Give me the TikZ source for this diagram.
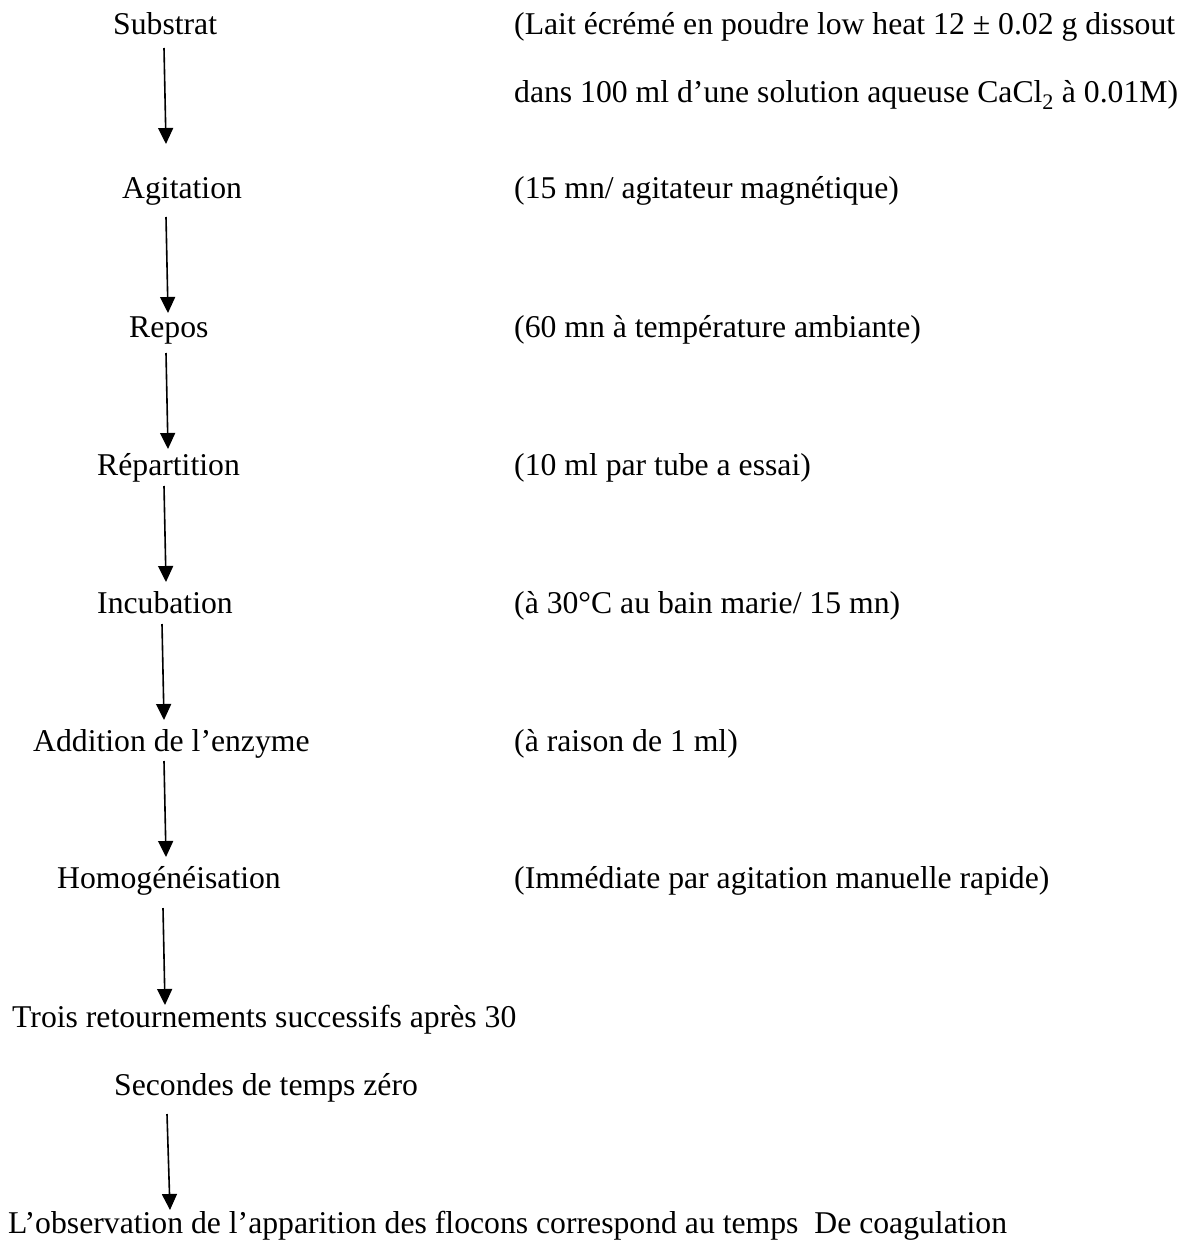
\documentclass[tikz,border=0pt]{standalone}
\usepackage{fontspec}
\setmainfont{Liberation Serif}
\usetikzlibrary{arrows.meta}
\begin{document}
\begin{tikzpicture}[x=1pt,y=-1pt,
  txt/.style={anchor=base west,inner sep=0pt,font=\fontsize{31.7}{38}\selectfont},
  arr/.style={line width=1.6pt,-{Triangle[width=15pt,length=16pt]}}]
\useasboundingbox (0,0) rectangle (1193,1241);
% left column
\node[txt] (sub) at (113,35) {Substrat};
\node[txt] (agi) at (122,199) {Agitation};
\node[txt] (rep) at (129,337) {Repos};
\node[txt] (rpt) at (97,475) {Répartition};
\node[txt] (inc) at (97,613) {Incubation};
\node[txt] (add) at (33,751) {Addition de l’enzyme};
\node[txt] (hom) at (57,888) {Homogénéisation};
\node[txt] (tro) at (12,1027) {Trois retournements successifs après 30};
\node[txt] (sec) at (114,1095) {Secondes de temps zéro};
\node[txt] (obs) at (8,1233) {L’observation de l’apparition des flocons correspond au temps\ \ De coagulation};
% right column
\node[txt] (c1a) at (514,35) {(Lait écrémé en poudre low heat 12 ± 0.02 g dissout};
\node[txt] (c1b) at (514,103) {dans 100 ml d’une solution aqueuse CaCl\textsubscript{2} à 0.01M)};
\node[txt] (c2) at (514,199) {(15 mn/ agitateur magnétique)};
\node[txt] (c3) at (514,337) {(60 mn à température ambiante)};
\node[txt] (c4) at (514,475) {(10 ml par tube a essai)};
\node[txt] (c5) at (514,613) {(à 30°C au bain marie/ 15 mn)};
\node[txt] (c6) at (514,751) {(à raison de 1 ml)};
\node[txt] (c7) at (514,888) {(Immédiate par agitation manuelle rapide)};
% arrows
\draw[arr] ([shift={(51,13)}]sub.base west) -- ([shift={(44,-55)}]agi.base west);
\draw[arr] ([shift={(44,18)}]agi.base west) -- ([shift={(39,-24)}]rep.base west);
\draw[arr] ([shift={(37,16)}]rep.base west) -- ([shift={(71,-26)}]rpt.base west);
\draw[arr] ([shift={(67,11)}]rpt.base west) -- ([shift={(69,-31)}]inc.base west);
\draw[arr] ([shift={(65,11)}]inc.base west) -- ([shift={(131,-31)}]add.base west);
\draw[arr] ([shift={(131,10)}]add.base west) -- ([shift={(109,-31)}]hom.base west);
\draw[arr] ([shift={(106,20)}]hom.base west) -- ([shift={(153,-22)}]tro.base west);
\draw[arr] ([shift={(53,19)}]sec.base west) -- ([shift={(162,-23)}]obs.base west);
\end{tikzpicture}
\end{document}
